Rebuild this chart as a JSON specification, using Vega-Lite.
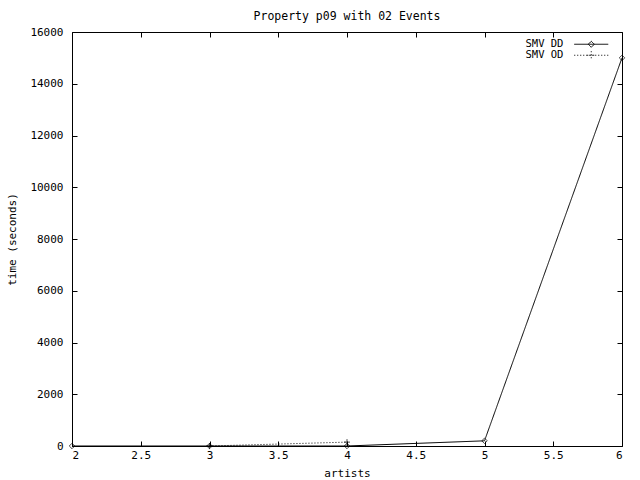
{
  "$schema": "https://vega.github.io/schema/vega-lite/v6.json",
  "width": 550,
  "height": 414,
  "autosize": {"type": "none"},
  "padding": {"left": 72, "top": 32, "right": 18, "bottom": 34},
  "background": "white",
  "title": {"text": "Property p09 with 02 Events", "font": "DejaVu Sans Mono", "fontSize": 11.5, "fontWeight": "normal", "color": "black", "offset": 4, "anchor": "middle"},
  "config": {
    "view": {"stroke": "black", "strokeWidth": 1},
    "axis": {"grid": false, "domain": false, "tickColor": "black", "tickSize": -5, "labelFont": "DejaVu Sans Mono", "labelFontSize": 11, "labelColor": "black", "titleFont": "DejaVu Sans Mono", "titleFontSize": 11, "titleFontWeight": "normal", "titleColor": "black"},
    "legend": {"labelFont": "DejaVu Sans Mono", "labelFontSize": 10.5, "labelColor": "black"}
  },
  "data": {"values": [
    {"artists": 2, "time": 0, "series": "SMV DD"},
    {"artists": 3, "time": 0, "series": "SMV DD"},
    {"artists": 4, "time": 0, "series": "SMV DD"},
    {"artists": 5, "time": 200, "series": "SMV DD"},
    {"artists": 6, "time": 15000, "series": "SMV DD"},
    {"artists": 3, "time": 0, "series": "SMV OD"},
    {"artists": 4, "time": 150, "series": "SMV OD"}
  ]},
  "layer": [
    {
      "mark": {"type": "line", "color": "black", "strokeWidth": 1},
      "encoding": {
        "x": {"field": "artists", "type": "quantitative", "scale": {"domain": [2, 6], "nice": false, "zero": false},
          "axis": {"values": [2, 2.5, 3, 3.5, 4, 4.5, 5, 5.5, 6], "format": "~g", "title": "artists", "labelPadding": 8, "titlePadding": 7}},
        "y": {"field": "time", "type": "quantitative", "scale": {"domain": [0, 16000], "nice": false},
          "axis": {"values": [0, 2000, 4000, 6000, 8000, 10000, 12000, 14000, 16000], "format": "d", "title": "time (seconds)", "labelPadding": 14, "titlePadding": 12}},
        "strokeDash": {"field": "series", "type": "nominal", "scale": {"domain": ["SMV DD", "SMV OD"], "range": [[1, 0], [1, 2]]},
          "legend": {"orient": "none", "legendX": 514, "legendY": 7, "title": null, "symbolType": "M-8.5,0H8.5", "symbolSize": 16, "symbolStrokeColor": "black", "symbolStrokeWidth": 1, "labelOffset": -71, "rowPadding": -2,
            "encode": {"symbols": {"update": {"shape": {"signal": "datum.value === 'SMV DD' ? 'M-8.5,0H8.5M0,-1.5L1.5,0L0,1.5L-1.5,0Z' : 'M-8.5,0H8.5M0,-2V2M-2,0H2'"}, "stroke": {"value": "black"}}}}}}
      }
    },
    {
      "transform": [{"filter": "datum.series === 'SMV DD'"}],
      "mark": {"type": "point", "filled": false, "stroke": "black", "strokeWidth": 1, "size": 30, "shape": "M0,-1L1,0L0,1L-1,0Z"},
      "encoding": {
        "x": {"field": "artists", "type": "quantitative", "axis": {"orient": "top", "values": [2, 2.5, 3, 3.5, 4, 4.5, 5, 5.5, 6], "labels": false, "title": null}},
        "y": {"field": "time", "type": "quantitative", "axis": {"orient": "right", "values": [0, 2000, 4000, 6000, 8000, 10000, 12000, 14000, 16000], "labels": false, "title": null}}
      }
    },
    {
      "transform": [{"filter": "datum.series === 'SMV OD'"}],
      "mark": {"type": "point", "filled": false, "stroke": "black", "strokeWidth": 1, "size": 36, "shape": "M-1,0H1M0,-1V1"},
      "encoding": {
        "x": {"field": "artists", "type": "quantitative", "axis": null},
        "y": {"field": "time", "type": "quantitative", "axis": null}
      }
    }
  ],
  "resolve": {"axis": {"x": "independent", "y": "independent"}}
}
